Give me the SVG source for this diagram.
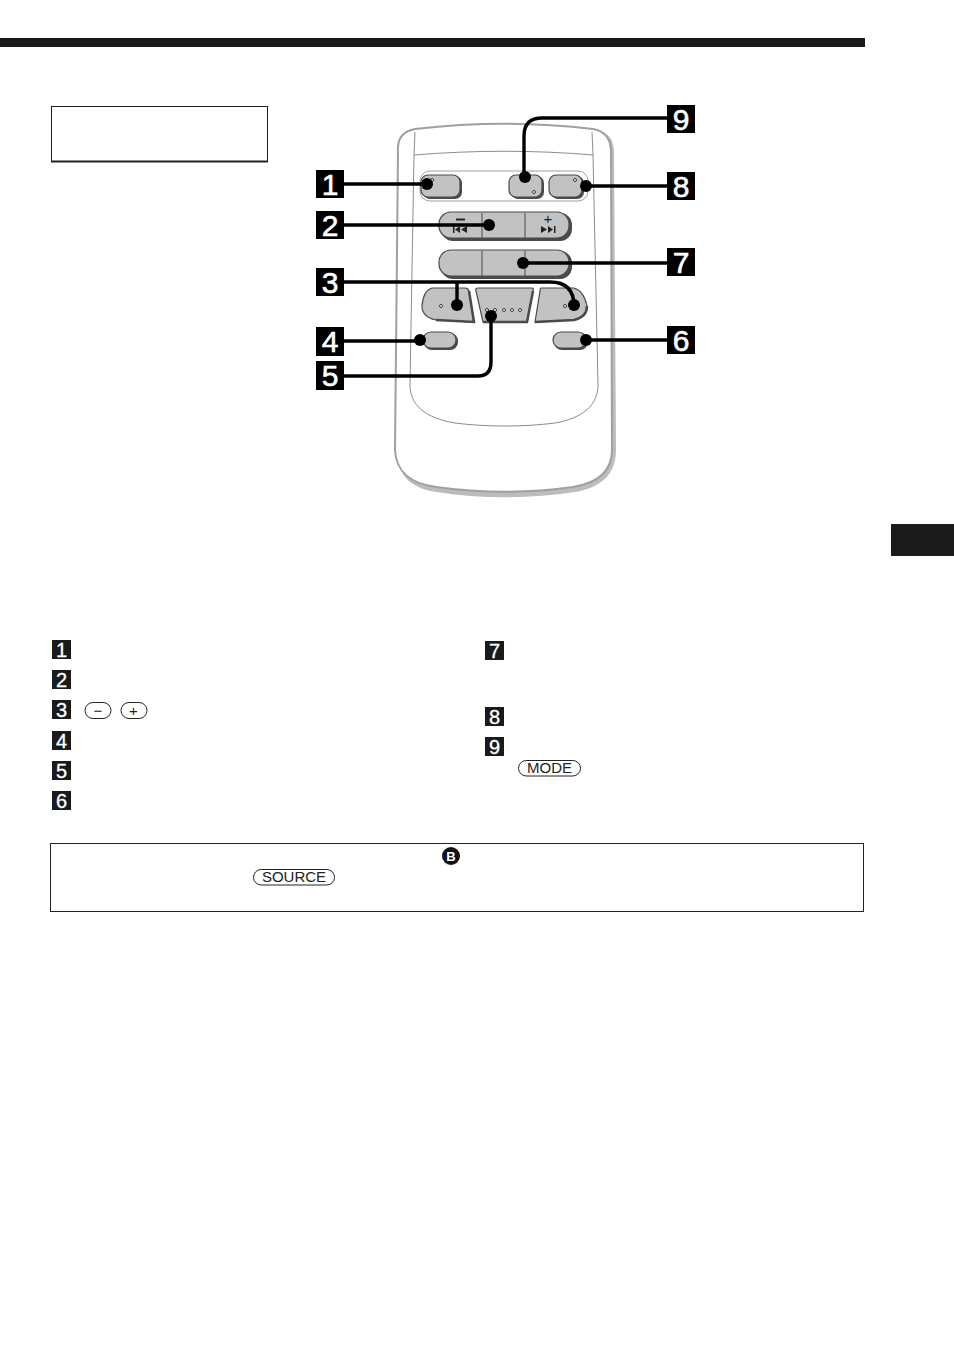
<svg xmlns="http://www.w3.org/2000/svg" width="954" height="1355" viewBox="0 0 954 1355">
<style>
.btn{fill:#c2c2c2;stroke:#4a4a4a;stroke-width:1.2}
.shadow{fill:#4a4a4a;stroke:none}
.div{stroke:#4a4a4a;stroke-width:1;fill:none}
.thin{fill:none;stroke:#8c8c8c;stroke-width:1}
.wire{fill:none;stroke:#000;stroke-width:3.4}
.dot{fill:#000}
.led{fill:#fff;stroke:#222;stroke-width:.9}
.bg{fill:#000}
.bt{font-family:"Liberation Sans",Arial,sans-serif;font-size:30px;fill:#fff;text-anchor:middle;stroke:#fff;stroke-width:.6}
.sg{fill:#1a1a1a}
.st{font-family:"Liberation Sans",Arial,sans-serif;font-size:20px;fill:#fff;text-anchor:middle;stroke:#fff;stroke-width:.3}
.pill{fill:#fff;stroke:#222;stroke-width:1}
.pt{font-family:"Liberation Sans",Arial,sans-serif;font-size:15px;fill:#222;text-anchor:middle}
</style>
<rect id="top-bar" x="0" y="38" width="865" height="9" fill="#1a1a1a"/>
<rect id="tab" x="891" y="524" width="63" height="32" fill="#1a1a1a"/>
<g id="title-box">
<rect x="51.500" y="106.500" width="216" height="55" fill="#fff" stroke="#222" stroke-width="1"/>
<path d="M51 161.500H268" stroke="#222" stroke-width="1.800"/>
</g>
<g id="remote">
<path d="M401 150C400 139 406 133 418 131C475 123 535 123 597 131C609 133 614 140 614 152L616 450C616 475 600 488 575 492C530 499 480 499 436 492C415 489 399 478 398 458Z" fill="#bcbcbc"/>
<path d="M398 152C397 138 403 131 415 129C475 122 535 122 593 129C605 131 611 138 611 152L612 450C612 472 597 483 573 487C530 493 480 493 436 487C413 484 396 473 395 450Z" fill="#fff" stroke="#a0a0a0" stroke-width="2"/>
<path d="M415 132L414 155M414 155L410 385C410 405 425 418 455 423C485 427 525 427 555 423C583 418 598 405 598 385L593 155L592 132M414 155C475 150 535 150 593 155" class="thin"/>
<rect x="420" y="171" width="168" height="30" rx="10" fill="#fff" stroke="#a0a0a0" stroke-width="1"/>
</g>
<g id="btn-1"><rect x="423" y="176" width="39" height="23" rx="7" class="shadow"/><rect x="421" y="175" width="39" height="22" rx="7" class="btn"/><circle cx="432" cy="180" r="1.500" class="led"/></g>
<g id="btn-9"><rect x="511" y="176" width="33" height="23" rx="7" class="shadow"/><rect x="509" y="175" width="33" height="22" rx="7" class="btn"/><circle cx="534" cy="192" r="1.500" class="led"/></g>
<g id="btn-8"><rect x="551" y="176" width="33" height="23" rx="7" class="shadow"/><rect x="549" y="175" width="33" height="22" rx="7" class="btn"/><circle cx="575" cy="180" r="1.500" class="led"/></g>
<g id="btn-2">
<rect x="441" y="213" width="131" height="28" rx="12" class="shadow"/>
<rect x="439" y="212" width="130" height="26" rx="12" class="btn"/>
<path d="M482 213V238M525 213V238" class="div"/>
<rect x="456" y="218.500" width="9" height="2" fill="#222"/>
<text x="548" y="224" class="pt" style="font-size:15px">+</text>
<path d="M453 226h1.500v7h-1.500zM460 226v7l-5-3.500zM467 226v7l-6-3.500zM541 226v7l6-3.500zM548 226v7l5-3.500zM554 226h1.500v7h-1.500z" fill="#222"/>
</g>
<g id="btn-7">
<rect x="441" y="251" width="131" height="28" rx="12" class="shadow"/>
<rect x="439" y="250" width="130" height="26" rx="12" class="btn"/>
<path d="M482 251V276M525 251V276" class="div"/>
</g>
<g id="btn-3l"><path d="M432 288H465Q468 288 469 291L474 322L436 320Q422 317 422 306Q423 291 432 288Z" class="btn"/><path d="M469 291L474 322L436 320" fill="none" stroke="#4a4a4a" stroke-width="2.500"/><circle cx="441" cy="306" r="1.500" class="led"/></g>
<g id="btn-5">
<path d="M478 288H532Q534 288 533 291L527 322H483L476 291Q475 288 478 288Z" class="btn"/><path d="M533 291L527 322H483" fill="none" stroke="#4a4a4a" stroke-width="2.500"/>
<circle cx="487" cy="310" r="1.500" class="led"/><circle cx="495" cy="310" r="1.500" class="led"/><circle cx="504" cy="310" r="1.500" class="led"/><circle cx="512" cy="310" r="1.500" class="led"/><circle cx="520" cy="310" r="1.500" class="led"/>
</g>
<g id="btn-3r"><path d="M541 288H574Q584 291 587 306Q587 317 574 320L535 322L540 291Q540 288 541 288Z" class="btn"/><path d="M587 306Q587 317 574 320L535 322" fill="none" stroke="#4a4a4a" stroke-width="2.500"/><circle cx="565" cy="306" r="1.500" class="led"/></g>
<g id="btn-4"><rect x="424" y="333" width="34" height="17" rx="8" class="shadow"/><rect x="423" y="332" width="33" height="16" rx="8" class="btn"/></g>
<g id="btn-6"><rect x="554" y="333" width="34" height="17" rx="8" class="shadow"/><rect x="553" y="332" width="33" height="16" rx="8" class="btn"/></g>
<g id="connectors">
<path class="wire" d="M344 184H427"/><circle class="dot" cx="427" cy="184" r="6"/>
<path class="wire" d="M344 225H489"/><circle class="dot" cx="489" cy="225" r="6"/>
<path class="wire" d="M344 282H550Q574 282 574 306M457 282V305"/><circle class="dot" cx="457" cy="305" r="6"/><circle class="dot" cx="574" cy="305" r="6"/>
<path class="wire" d="M344 341H420"/><circle class="dot" cx="420" cy="340" r="6"/>
<path class="wire" d="M344 376H478Q491 376 491 362V316"/><circle class="dot" cx="491" cy="316" r="6"/>
<path class="wire" d="M667 118H542Q524 118 524 136V177"/><circle class="dot" cx="525" cy="177" r="6"/>
<path class="wire" d="M667 186H586"/><circle class="dot" cx="586" cy="186" r="6"/>
<path class="wire" d="M667 263H523"/><circle class="dot" cx="523" cy="263" r="6"/>
<path class="wire" d="M667 340H586"/><circle class="dot" cx="586" cy="340" r="6"/>
</g>
<g id="callout-1"><rect class="bg" x="316" y="170" width="28" height="28"/><text class="bt" x="330" y="195">1</text></g>
<g id="callout-2"><rect class="bg" x="316" y="211" width="28" height="28"/><text class="bt" x="330" y="236">2</text></g>
<g id="callout-3"><rect class="bg" x="316" y="268" width="28" height="28"/><text class="bt" x="330" y="293">3</text></g>
<g id="callout-4"><rect class="bg" x="316" y="327" width="28" height="29"/><text class="bt" x="330" y="352">4</text></g>
<g id="callout-5"><rect class="bg" x="316" y="361" width="28" height="29"/><text class="bt" x="330" y="386">5</text></g>
<g id="callout-9"><rect class="bg" x="667" y="105" width="28" height="28"/><text class="bt" x="681" y="130">9</text></g>
<g id="callout-8"><rect class="bg" x="667" y="172" width="28" height="28"/><text class="bt" x="681" y="197">8</text></g>
<g id="callout-7"><rect class="bg" x="667" y="248" width="28" height="28"/><text class="bt" x="681" y="273">7</text></g>
<g id="callout-6"><rect class="bg" x="667" y="326" width="28" height="28"/><text class="bt" x="681" y="351">6</text></g>
<g id="item-1"><rect class="sg" x="52" y="640" width="19" height="19"/><text class="st" x="61.500" y="656.500">1</text></g>
<g id="item-2"><rect class="sg" x="52" y="670" width="19" height="19"/><text class="st" x="61.500" y="686.500">2</text></g>
<g id="item-3"><rect class="sg" x="52" y="700" width="19" height="19"/><text class="st" x="61.500" y="716.500">3</text>
<rect class="pill" x="85" y="702.500" width="26" height="16" rx="8"/><text class="pt" x="98" y="715.500">−</text>
<rect class="pill" x="121" y="702.500" width="26" height="16" rx="8"/><text class="pt" x="133.500" y="715.500">+</text></g>
<g id="item-4"><rect class="sg" x="52" y="731" width="19" height="19"/><text class="st" x="61.500" y="747.500">4</text></g>
<g id="item-5"><rect class="sg" x="52" y="761" width="19" height="19"/><text class="st" x="61.500" y="777.500">5</text></g>
<g id="item-6"><rect class="sg" x="52" y="791" width="19" height="19"/><text class="st" x="61.500" y="807.500">6</text></g>
<g id="item-7"><rect class="sg" x="485" y="641" width="19" height="19"/><text class="st" x="494.500" y="657.500">7</text></g>
<g id="item-8"><rect class="sg" x="485" y="707" width="19" height="19"/><text class="st" x="494.500" y="723.500">8</text></g>
<g id="item-9"><rect class="sg" x="485" y="737" width="19" height="19"/><text class="st" x="494.500" y="753.500">9</text>
<rect class="pill" x="518.500" y="760.500" width="62" height="15.500" rx="7.700"/><text class="pt" x="549.500" y="773">MODE</text></g>
<g id="note-box">
<rect x="50.500" y="843.500" width="813" height="68" fill="#fff" stroke="#222" stroke-width="1"/>
<circle cx="451" cy="856" r="9" fill="#111"/><text x="451" y="861" text-anchor="middle" font-family="Liberation Sans, Arial, sans-serif" font-size="13" font-weight="bold" fill="#fff">B</text>
<rect class="pill" x="253.500" y="869.500" width="81" height="15.500" rx="7.700"/><text class="pt" x="294" y="882">SOURCE</text>
</g>
</svg>
